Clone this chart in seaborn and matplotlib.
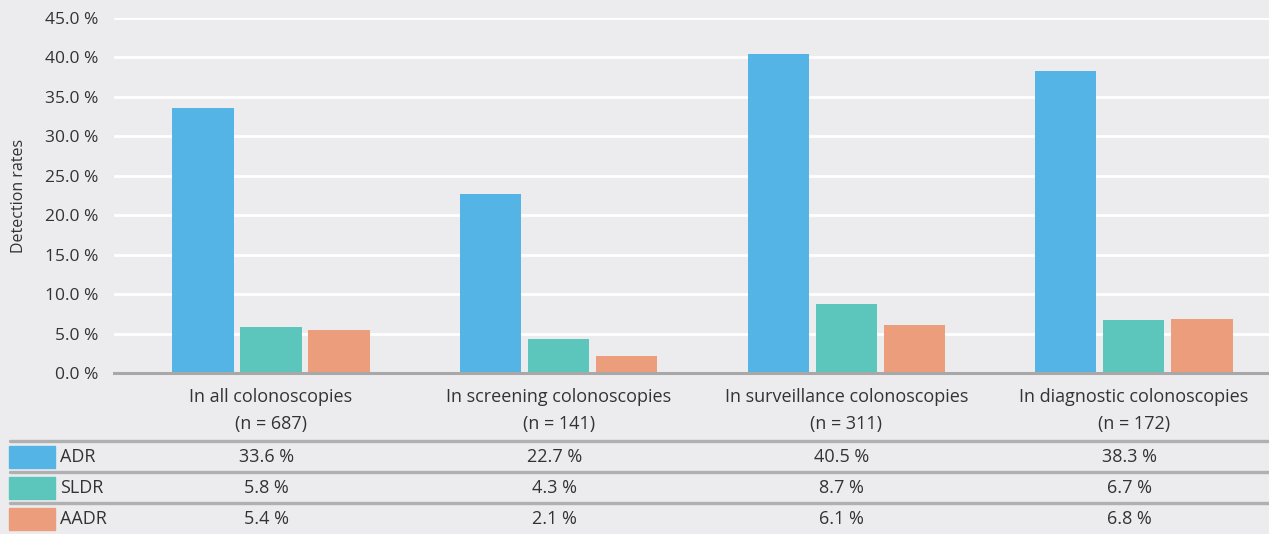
import pandas as pd
import matplotlib.pyplot as plt
import matplotlib.transforms as mtransforms
import seaborn as sns

categories = ["In all colonoscopies\n(n = 687)", "In screening colonoscopies\n(n = 141)",
              "In surveillance colonoscopies\n(n = 311)", "In diagnostic colonoscopies\n(n = 172)"]
series = ["ADR", "SLDR", "AADR"]
adr = [33.6, 22.7, 40.5, 38.3]
sldr = [5.8, 4.3, 8.7, 6.7]
aadr = [5.4, 2.1, 6.1, 6.8]
colors = ["#55b4e6", "#5cc5bc", "#ec9d7c"]

bg = "#ececee"
text_c = "#333333"

df = pd.DataFrame({
    "category": categories * 3,
    "series": [s for s in series for _ in categories],
    "value": adr + sldr + aadr,
})

sns.set_theme(style="white")
plt.rcParams["font.family"] = ["Open Sans", "DejaVu Sans"]

W, H = 1269, 534
fig = plt.figure(figsize=(W / 100, H / 100), dpi=100, facecolor=bg)
ax = fig.add_axes([114 / W, (H - 373) / H, (W - 114) / W, (373 - 18) / H])
ax.set_facecolor(bg)

sns.barplot(data=df, x="category", y="value", hue="series", palette=colors,
            width=0.71, gap=0.1, saturation=1, linewidth=0, ax=ax, legend=False, zorder=3)

ax.set_xlim(-0.546, 3.47)
ax.set_ylim(0, 45)
ax.set_yticks(range(0, 46, 5))
ax.set_yticklabels([f"{v:.1f} %" for v in range(0, 46, 5)])
ax.yaxis.grid(True, color="white", lw=2, zorder=0)
ax.set_axisbelow(True)
for s in ["top", "right", "left"]:
    ax.spines[s].set_visible(False)
ax.spines["bottom"].set_color("#a8a8a8")
ax.spines["bottom"].set_linewidth(2.2)
ax.spines["bottom"].set_zorder(4)
ax.tick_params(axis="y", length=0, pad=11, labelsize=12.5, labelcolor=text_c)
ax.tick_params(axis="x", length=0, pad=11, labelsize=13, labelcolor=text_c)
for lab in ax.get_xticklabels():
    lab.set_linespacing(1.6)
ax.set_xlabel("")
ax.set_ylabel("Detection rates", fontsize=11.5, color=text_c)
ax.yaxis.set_label_coords(-0.075, 0.5)

# table below the chart
trans = mtransforms.blended_transform_factory(ax.transData, fig.transFigure)
for y in [441, 472, 503]:
    fig.add_artist(plt.Line2D([10 / W, 1], [1 - y / H, 1 - y / H], color="#b0b0b0", lw=2.4))

rows = [adr, sldr, aadr]
row_y = [457, 488, 519]
for name, vals, col, y in zip(series, rows, colors, row_y):
    fig.add_artist(plt.Rectangle((9 / W, 1 - (y + 11) / H), 46 / W, 22 / H,
                                 color=col, transform=fig.transFigure))
    fig.text(60 / W, 1 - y / H, name, ha="left", va="center", fontsize=13, color=text_c)
    for i, v in enumerate(vals):
        ax.text(i - 0.015, 1 - y / H, f"{v} %", transform=trans, ha="center", va="center",
                fontsize=13, color=text_c)

fig.savefig("out.png", dpi=100, facecolor=bg)
